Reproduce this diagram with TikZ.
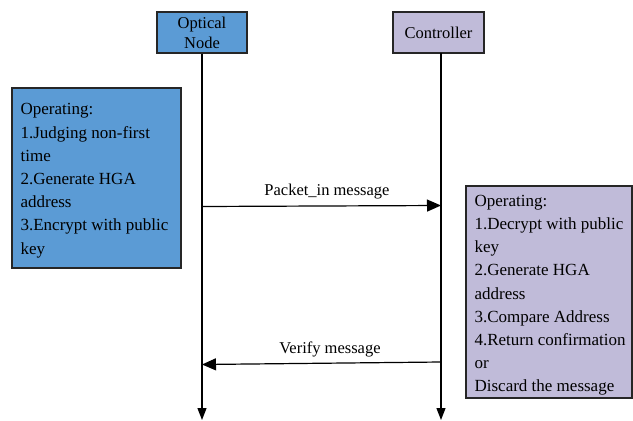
\documentclass[tikz,border=0pt]{standalone}
\usepackage{fontspec}
\setmainfont{Liberation Serif}
\usetikzlibrary{arrows.meta}
\definecolor{nodeblue}{HTML}{5B9BD5}
\definecolor{lav}{HTML}{C0BBD9}
\definecolor{edge}{HTML}{262626}
\tikzset{
  actor/.style={draw=edge, line width=1.2pt, minimum width=90pt, minimum height=41pt, inner sep=0pt, align=center, font=\rmfamily\fontsize{16.5}{20}\selectfont},
  opbox/.style={draw=edge, line width=1.2pt, inner sep=0pt},
  optext/.style={anchor=north west, inner sep=0pt, align=left, font=\rmfamily\fontsize{17}{23.2}\selectfont},
  life/.style={line width=1.3pt, -{Triangle[length=12pt,width=9pt]}},
  msg/.style={line width=1.2pt, -{Triangle[length=14pt,width=12pt]}},
  lbl/.style={inner sep=0pt, font=\rmfamily\fontsize{16.5}{20}\selectfont}
}
\begin{document}
\begin{tikzpicture}[x=1pt,y=-1pt]
\useasboundingbox (0,0) rectangle (633,421);
\node[actor, fill=nodeblue] (on) at (202,32.5) {Optical\\Node};
\node[actor, fill=lav, minimum width=91pt] (ct) at (438.5,32.5) {Controller};
\coordinate (onend) at (202,420);
\coordinate (ctend) at (441,420);
\draw[life] (on.south) -- (onend);
\draw[life] (441,53) -- (ctend);
\node[opbox, fill=nodeblue, minimum width=169pt, minimum height=180pt] (lb) at (96.5,178) {};
\node[optext] (lt) at ([xshift=9pt,yshift=-16pt]lb.north west) {Operating:\\1.Judging non-first\\time\\2.Generate HGA\\address\\3.Encrypt with public\\key};
\node[opbox, fill=lav, minimum width=166pt, minimum height=212pt] (rb) at (549,292) {};
\node[optext] (rt) at ([xshift=9pt,yshift=-9.5pt]rb.north west) {Operating:\\1.Decrypt with public\\key\\2.Generate HGA\\address\\3.Compare Address\\4.Return confirmation\\or\\Discard the message};
\coordinate (p1) at (202,206.5);
\coordinate (p2) at (441,205.5);
\draw[msg] (p1) -- (p2);
\node[lbl] (pl) at (327,192) {Packet\_in message};
\coordinate (v1) at (441,362);
\coordinate (v2) at (202,364.5);
\draw[msg] (v1) -- (v2);
\node[lbl] (vl) at (330,349) {Verify message};
\end{tikzpicture}
\end{document}
